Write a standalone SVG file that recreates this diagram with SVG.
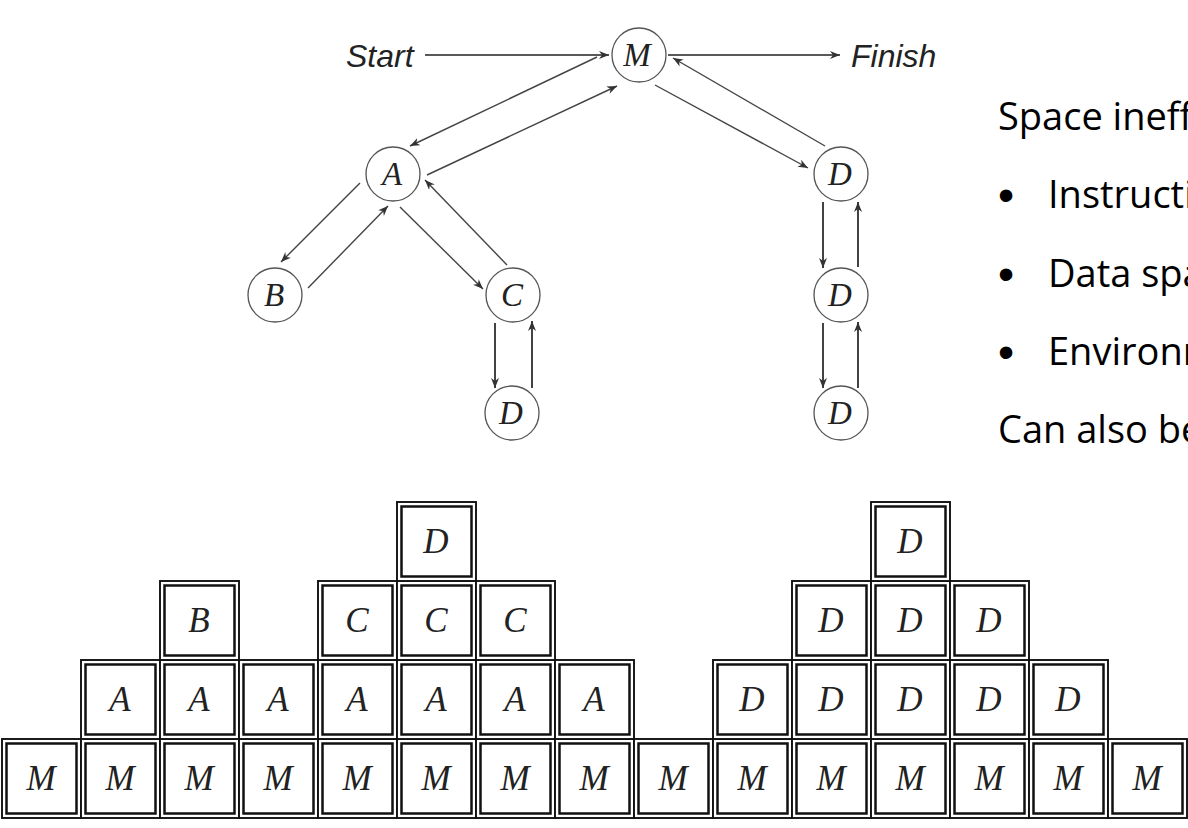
<svg xmlns="http://www.w3.org/2000/svg" width="1188" height="828" viewBox="0 0 1188 828">
<style>
.nd{fill:#fff;stroke:#555;stroke-width:1.3}
.nl{font-family:"Liberation Serif",serif;font-style:italic;font-size:33px;fill:#222;text-anchor:middle}
.cl{font-family:"Liberation Serif",serif;font-style:italic;font-size:35px;fill:#222;text-anchor:middle}
.ob{fill:#fff;stroke:#111;stroke-width:1.9}
.ib{fill:none;stroke:#111;stroke-width:2.5}
.lb{font-family:"Liberation Sans",sans-serif;font-style:italic;font-size:32px;fill:#222}
.tx{font-family:"Open Sans",sans-serif;font-size:38px;fill:#000}
.bu{font-family:"Liberation Sans",sans-serif;font-size:46px;fill:#000}
.e{fill:none;stroke:#444;stroke-width:1.4}
.ev{fill:none;stroke:#222;stroke-width:1.7}
.eh{fill:none;stroke:#222;stroke-width:1.7}
</style>
<defs>
<marker id="ah" markerUnits="userSpaceOnUse" markerWidth="12" markerHeight="10" refX="10" refY="4" orient="auto">
<path d="M0,0 L10,4 L0,8 L3,4 z" fill="#333"/>
</marker>
<g id="cell">
<rect class="ob" x="0" y="0" width="79" height="79"/>
<rect class="ib" x="4.5" y="4.5" width="70" height="70"/>
</g>
</defs>
<rect width="1188" height="828" fill="#fff"/>

<g id="connectors">
<line class="eh" x1="425" y1="55" x2="609" y2="55" marker-end="url(#ah)"/>
<line class="eh" x1="668" y1="55" x2="840" y2="55" marker-end="url(#ah)"/>
<line class="e" x1="597" y1="57" x2="410" y2="146" marker-end="url(#ah)"/>
<line class="e" x1="427" y1="175" x2="617" y2="86" marker-end="url(#ah)"/>
<line class="e" x1="655" y1="85" x2="808" y2="168" marker-end="url(#ah)"/>
<line class="e" x1="825" y1="146" x2="673" y2="58" marker-end="url(#ah)"/>
<line class="e" x1="360" y1="183" x2="281" y2="262" marker-end="url(#ah)"/>
<line class="e" x1="308" y1="288" x2="388" y2="206" marker-end="url(#ah)"/>
<line class="e" x1="400" y1="207" x2="483" y2="289" marker-end="url(#ah)"/>
<line class="e" x1="507" y1="265" x2="425" y2="180" marker-end="url(#ah)"/>
<line class="ev" x1="495" y1="323" x2="495" y2="388" marker-end="url(#ah)"/>
<line class="ev" x1="532" y1="388" x2="532" y2="321" marker-end="url(#ah)"/>
<line class="ev" x1="823" y1="202" x2="823" y2="268" marker-end="url(#ah)"/>
<line class="ev" x1="858" y1="267" x2="858" y2="202" marker-end="url(#ah)"/>
<line class="ev" x1="823" y1="323" x2="823" y2="388" marker-end="url(#ah)"/>
<line class="ev" x1="858" y1="388" x2="858" y2="322" marker-end="url(#ah)"/>
</g>

<g id="label-start"><text class="lb" x="346" y="67">Start</text></g>
<g id="label-finish"><text class="lb" x="851" y="67">Finish</text></g>

<g id="node-M"><circle class="nd" cx="639" cy="55" r="27"/><text class="nl" x="637" y="66">M</text></g>
<g id="node-A"><circle class="nd" cx="393" cy="174" r="27"/><text class="nl" x="392" y="185">A</text></g>
<g id="node-B"><circle class="nd" cx="275" cy="295" r="27"/><text class="nl" x="274" y="306">B</text></g>
<g id="node-C"><circle class="nd" cx="513" cy="295" r="27"/><text class="nl" x="512" y="306">C</text></g>
<g id="node-D-c"><circle class="nd" cx="512" cy="413" r="27"/><text class="nl" x="511" y="424">D</text></g>
<g id="node-D1"><circle class="nd" cx="841" cy="174" r="27"/><text class="nl" x="840" y="185">D</text></g>
<g id="node-D2"><circle class="nd" cx="841" cy="295" r="27"/><text class="nl" x="840" y="306">D</text></g>
<g id="node-D3"><circle class="nd" cx="841" cy="413" r="27"/><text class="nl" x="840" y="424">D</text></g>

<g id="text-panel">
<text class="tx" x="998" y="130">Space ineff</text>
<text class="bu" x="998" y="211">•</text><text class="tx" x="1048" y="208">Instructi</text>
<text class="bu" x="998" y="290">•</text><text class="tx" x="1048" y="287">Data spa</text>
<text class="bu" x="998" y="368">•</text><text class="tx" x="1048" y="365">Environm</text>
<text class="tx" x="998" y="443">Can also be</text>
</g>

<g id="stack">
<g id="c0-0"><use href="#cell" x="2" y="739"/><text class="cl" x="41" y="790">M</text></g>
<g id="c1-0"><use href="#cell" x="81" y="739"/><text class="cl" x="120" y="790">M</text></g>
<g id="c1-1"><use href="#cell" x="81" y="660"/><text class="cl" x="120" y="711">A</text></g>
<g id="c2-0"><use href="#cell" x="160" y="739"/><text class="cl" x="199" y="790">M</text></g>
<g id="c2-1"><use href="#cell" x="160" y="660"/><text class="cl" x="199" y="711">A</text></g>
<g id="c2-2"><use href="#cell" x="160" y="581"/><text class="cl" x="199" y="632">B</text></g>
<g id="c3-0"><use href="#cell" x="239" y="739"/><text class="cl" x="278" y="790">M</text></g>
<g id="c3-1"><use href="#cell" x="239" y="660"/><text class="cl" x="278" y="711">A</text></g>
<g id="c4-0"><use href="#cell" x="318" y="739"/><text class="cl" x="357" y="790">M</text></g>
<g id="c4-1"><use href="#cell" x="318" y="660"/><text class="cl" x="357" y="711">A</text></g>
<g id="c4-2"><use href="#cell" x="318" y="581"/><text class="cl" x="357" y="632">C</text></g>
<g id="c5-0"><use href="#cell" x="397" y="739"/><text class="cl" x="436" y="790">M</text></g>
<g id="c5-1"><use href="#cell" x="397" y="660"/><text class="cl" x="436" y="711">A</text></g>
<g id="c5-2"><use href="#cell" x="397" y="581"/><text class="cl" x="436" y="632">C</text></g>
<g id="c5-3"><use href="#cell" x="397" y="502"/><text class="cl" x="436" y="553">D</text></g>
<g id="c6-0"><use href="#cell" x="476" y="739"/><text class="cl" x="515" y="790">M</text></g>
<g id="c6-1"><use href="#cell" x="476" y="660"/><text class="cl" x="515" y="711">A</text></g>
<g id="c6-2"><use href="#cell" x="476" y="581"/><text class="cl" x="515" y="632">C</text></g>
<g id="c7-0"><use href="#cell" x="555" y="739"/><text class="cl" x="594" y="790">M</text></g>
<g id="c7-1"><use href="#cell" x="555" y="660"/><text class="cl" x="594" y="711">A</text></g>
<g id="c8-0"><use href="#cell" x="634" y="739"/><text class="cl" x="673" y="790">M</text></g>
<g id="c9-0"><use href="#cell" x="713" y="739"/><text class="cl" x="752" y="790">M</text></g>
<g id="c9-1"><use href="#cell" x="713" y="660"/><text class="cl" x="752" y="711">D</text></g>
<g id="c10-0"><use href="#cell" x="792" y="739"/><text class="cl" x="831" y="790">M</text></g>
<g id="c10-1"><use href="#cell" x="792" y="660"/><text class="cl" x="831" y="711">D</text></g>
<g id="c10-2"><use href="#cell" x="792" y="581"/><text class="cl" x="831" y="632">D</text></g>
<g id="c11-0"><use href="#cell" x="871" y="739"/><text class="cl" x="910" y="790">M</text></g>
<g id="c11-1"><use href="#cell" x="871" y="660"/><text class="cl" x="910" y="711">D</text></g>
<g id="c11-2"><use href="#cell" x="871" y="581"/><text class="cl" x="910" y="632">D</text></g>
<g id="c11-3"><use href="#cell" x="871" y="502"/><text class="cl" x="910" y="553">D</text></g>
<g id="c12-0"><use href="#cell" x="950" y="739"/><text class="cl" x="989" y="790">M</text></g>
<g id="c12-1"><use href="#cell" x="950" y="660"/><text class="cl" x="989" y="711">D</text></g>
<g id="c12-2"><use href="#cell" x="950" y="581"/><text class="cl" x="989" y="632">D</text></g>
<g id="c13-0"><use href="#cell" x="1029" y="739"/><text class="cl" x="1068" y="790">M</text></g>
<g id="c13-1"><use href="#cell" x="1029" y="660"/><text class="cl" x="1068" y="711">D</text></g>
<g id="c14-0"><use href="#cell" x="1108" y="739"/><text class="cl" x="1147" y="790">M</text></g>
</g>
</svg>
